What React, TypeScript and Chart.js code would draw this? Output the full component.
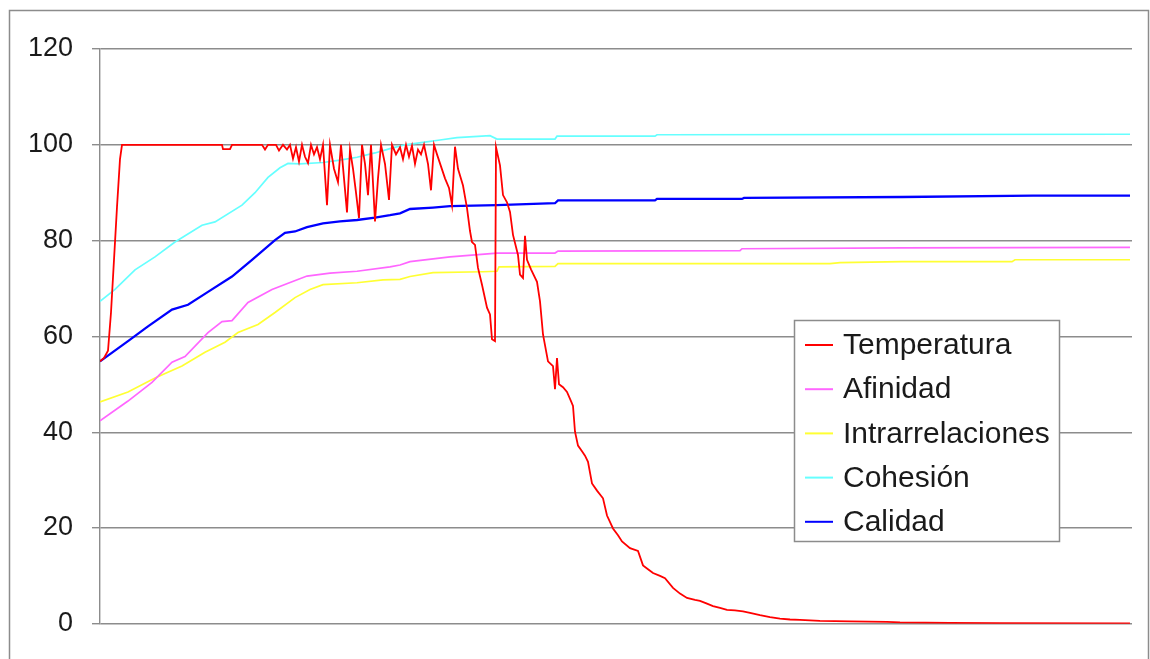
import { useEffect, useRef } from "react";
import { Chart, registerables } from "chart.js";

Chart.register(...registerables);

const yTicks = [0, 20, 40, 60, 80, 100, 120];
const seriesLabels = ["Temperatura", "Afinidad", "Intrarrelaciones", "Cohesión", "Calidad"];
const seriesColors = ["#ff0000", "#ff66ff", "#ffff33", "#66ffff", "#0000ff"];
const seriesWidths = [1.8, 1.7, 1.7, 1.7, 2.3];

const temperaturaX = [0, 4, 8, 11, 14, 17, 20, 22, 122, 123, 130, 132, 162, 165, 168, 176, 179, 183, 187, 190, 193, 196, 199, 202, 205, 208, 211, 214, 217, 220, 223, 227, 230, 234, 238, 241, 244, 247, 250, 253, 256, 259, 262, 265, 268, 271, 275, 278, 281, 285, 289, 292, 296, 300, 303, 306, 309, 312, 315, 318, 321, 324, 328, 331, 334, 337, 341, 345, 349, 352, 355, 358, 363, 367, 370, 372, 375, 378, 382, 387, 390, 392, 395, 396, 400, 403, 407, 410, 413, 418, 420, 423, 425, 427, 431, 437, 440, 443, 448, 453, 455, 457, 459, 463, 467, 471, 473, 475, 478, 482, 485, 488, 492, 497, 503, 507, 513, 518, 522, 530, 538, 543, 548, 553, 560, 565, 573, 580, 587, 595, 600, 607, 613, 620, 627, 635, 643, 650, 660, 670, 680, 690, 700, 720, 750, 787, 800, 850, 900, 1030];
const temperaturaY = [54.8, 55.5, 57.0, 65, 76, 87, 97, 100, 100, 99.1, 99.1, 100, 100, 99.0, 100, 100, 98.8, 100, 99, 100, 97.1, 99.5, 96.5, 100, 97.5, 96.2, 100, 98, 99.5, 97, 100, 87.4, 100, 95, 92.2, 100, 93, 85.9, 99, 95, 90, 84.7, 100, 96, 89.5, 100, 84, 93, 100, 96, 88.5, 100, 98, 99.5, 97, 100, 97.5, 99.8, 96, 99, 98, 100, 96, 90.5, 100, 98, 95.5, 93, 91, 87.4, 99.6, 95, 91.5, 86.8, 82, 79.7, 79.1, 74.3, 70.8, 66, 64.6, 59.4, 59, 99.5, 95.7, 89.5, 88, 86, 81.2, 77, 72.9, 72.2, 81, 76, 74, 71.4, 67.3, 60.4, 54.8, 53.8, 49.0, 55.5, 50, 49.4, 48.4, 46.5, 45.5, 40.1, 37.2, 36, 35.1, 33.8, 29.3, 27.8, 26.2, 22.6, 19.9, 18.5, 17.2, 15.8, 15.2, 12.2, 11.4, 10.6, 10, 9.5, 7.5, 6.3, 5.4, 5.0, 4.8, 4.2, 3.7, 3.3, 2.9, 2.8, 2.6, 2.3, 1.8, 1.4, 1.1, 0.9, 0.8, 0.6, 0.5, 0.4, 0.3, 0.2, 0.15, 0.1];

const afinidadX = [0, 28, 52, 72, 85, 108, 122, 132, 148, 172, 192, 207, 230, 257, 290, 300, 310, 350, 397, 455, 458, 640, 642, 802, 1030];
const afinidadY = [42.4, 46.5, 50.4, 54.6, 55.8, 60.8, 63.1, 63.3, 67.1, 69.8, 71.4, 72.6, 73.2, 73.6, 74.5, 74.9, 75.6, 76.6, 77.4, 77.4, 77.8, 77.9, 78.3, 78.5, 78.6];

const intrarrelacionesX = [0, 28, 55, 82, 105, 125, 138, 158, 175, 195, 210, 223, 257, 283, 300, 310, 333, 383, 397, 399, 455, 458, 730, 740, 802, 912, 915, 1030];
const intrarrelacionesY = [46.3, 48.4, 51.3, 53.8, 56.7, 58.8, 60.8, 62.5, 65.0, 68.1, 69.8, 70.8, 71.2, 71.8, 71.9, 72.5, 73.3, 73.5, 73.6, 74.5, 74.6, 75.2, 75.2, 75.4, 75.6, 75.6, 76.0, 76.0];

const cohesionX = [0, 15, 35, 55, 75, 102, 115, 142, 155, 168, 180, 188, 200, 223, 240, 257, 275, 290, 305, 323, 340, 357, 390, 397, 455, 457, 555, 557, 1030];
const cohesionY = [67.3, 69.8, 73.9, 76.6, 79.7, 83.2, 83.9, 87.4, 90, 93.2, 95.2, 96.1, 96, 96.3, 96.8, 97.4, 98.3, 99.2, 100, 100.5, 101, 101.5, 101.9, 101.2, 101.2, 101.8, 101.8, 102.1, 102.2];

const calidadX = [0, 28, 48, 72, 88, 108, 132, 152, 175, 185, 195, 207, 223, 240, 257, 275, 290, 300, 310, 333, 350, 397, 455, 458, 555, 557, 642, 644, 802, 933, 1030];
const calidadY = [54.8, 59.0, 62.1, 65.6, 66.6, 69.3, 72.5, 76.0, 80.1, 81.6, 81.9, 82.8, 83.6, 84.0, 84.3, 84.8, 85.3, 85.7, 86.6, 86.9, 87.2, 87.4, 87.8, 88.4, 88.4, 88.7, 88.7, 88.9, 89.1, 89.4, 89.4];

const seriesX = [temperaturaX, afinidadX, intrarrelacionesX, cohesionX, calidadX];
const seriesY = [temperaturaY, afinidadY, intrarrelacionesY, cohesionY, calidadY];

const FONT = '"Liberation Sans", Arial, sans-serif';
const GRID = "#8c8c8c";

const framePlugin = {
  id: "outerFrame",
  beforeDraw(chart: any) {
    const ctx = chart.ctx;
    ctx.save();
    ctx.fillStyle = "#ffffff";
    ctx.fillRect(0, 0, chart.width, chart.height);
    ctx.strokeStyle = "#8c8c8c";
    ctx.lineWidth = 1.5;
    ctx.strokeRect(9.5, 10.5, 1139, 720);
    ctx.restore();
  },
};

const boxLegendPlugin = {
  id: "boxLegend",
  afterDatasetsDraw(chart: any) {
    const ctx = chart.ctx;
    ctx.save();
    const x0 = 794.5, y0 = 320.5, w = 265, h = 221;
    ctx.fillStyle = "#ffffff";
    ctx.fillRect(x0, y0, w, h);
    ctx.strokeStyle = GRID;
    ctx.lineWidth = 1.5;
    ctx.strokeRect(x0, y0, w, h);
    ctx.font = `30px ${FONT}`;
    ctx.textBaseline = "middle";
    ctx.textAlign = "left";
    chart.data.datasets.forEach((ds: any, i: number) => {
      const cy = 345 + i * 44.2;
      ctx.strokeStyle = ds.borderColor;
      ctx.lineWidth = 2;
      ctx.beginPath();
      ctx.moveTo(805, cy);
      ctx.lineTo(833, cy);
      ctx.stroke();
      ctx.fillStyle = "#1a1a1a";
      ctx.fillText(ds.label, 843, cy + 1);
    });
    ctx.restore();
  },
};

export default function App() {
  const ref = useRef<HTMLCanvasElement | null>(null);
  useEffect(() => {
    document.body.style.margin = "0";
    if (!ref.current) return;
    const chart = new Chart(ref.current, {
      type: "line",
      data: {
        datasets: seriesLabels.map((label, i) => ({
          label,
          data: seriesX[i].map((x, j) => ({ x, y: seriesY[i][j] })),
          borderColor: seriesColors[i],
          backgroundColor: seriesColors[i],
          borderWidth: seriesWidths[i],
          pointRadius: 0,
          tension: 0,
          fill: false,
        })),
      },
      options: {
        animation: false,
        responsive: false,
        events: [],
        layout: { padding: { left: 0, top: 49, right: 18, bottom: 33 } },
        plugins: { legend: { display: false }, tooltip: { enabled: false } },
        scales: {
          x: { type: "linear", min: 0, max: 1032, display: false },
          y: {
            min: 0,
            max: 120,
            afterBuildTicks: (scale: any) => {
              scale.ticks = yTicks.map((v) => ({ value: v }));
            },
            afterFit: (scale: any) => {
              scale.width = 100;
            },
            ticks: {
              padding: 19,
              color: "#1a1a1a",
              font: { family: FONT, size: 27 },
            },
            grid: { color: GRID, lineWidth: 1.4, tickLength: 8, drawTicks: true },
            border: { display: true, color: GRID, width: 1.4 },
          },
        },
      },
      plugins: [framePlugin, boxLegendPlugin],
    });
    return () => chart.destroy();
  }, []);
  return (
    <div style={{ position: "absolute", left: 0, top: 0, width: 1150, height: 659 }}>
      <canvas ref={ref} width={1150} height={659} />
    </div>
  );
}
